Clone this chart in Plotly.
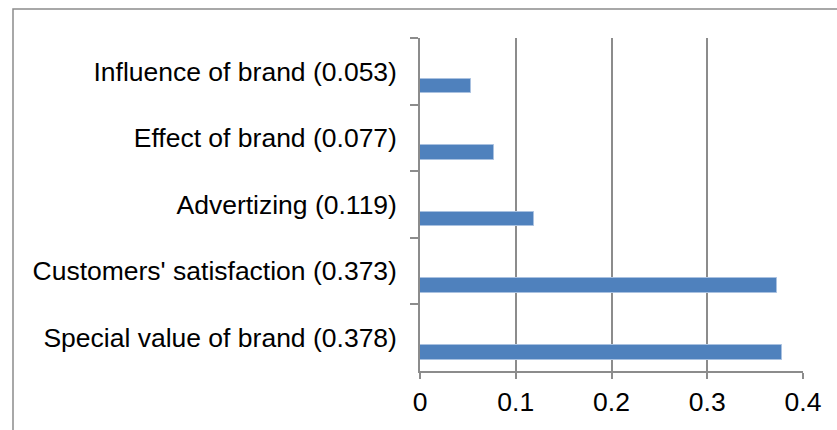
import plotly.graph_objects as go

categories = [
    "Influence of brand (0.053)",
    "Effect of brand (0.077)",
    "Advertizing (0.119)",
    "Customers' satisfaction (0.373)",
    "Special value of brand (0.378)",
]
values = [0.053, 0.077, 0.119, 0.373, 0.378]
x_ticks = [0, 0.1, 0.2, 0.3, 0.4]
x_tick_labels = ["0", "0.1", "0.2", "0.3", "0.4"]

W, H = 837, 430
L, R, T, B = 420, 34, 38, 59
pw, ph = W - L - R, H - T - B

fig = go.Figure(
    go.Bar(
        x=values,
        y=categories,
        orientation="h",
        offset=0.11,
        width=0.22,
        marker=dict(color="#4F81BD", line=dict(color="#A9C1E0", width=1)),
        hoverinfo="x+y",
    )
)

grey = "#8C8C8C"
font = dict(family="Liberation Sans, Arial, sans-serif", size=26.5, color="#000000")

fig.update_layout(
    width=W,
    height=H,
    margin=dict(l=L, r=R, t=T, b=B, autoexpand=False),
    paper_bgcolor="white",
    plot_bgcolor="white",
    showlegend=False,
    font=font,
    bargap=0,
    xaxis=dict(
        range=[0, 0.4],
        tickvals=x_ticks,
        ticktext=x_tick_labels,
        showgrid=True,
        gridcolor=grey,
        gridwidth=1.5,
        zeroline=False,
        showline=True,
        linecolor=grey,
        linewidth=1.5,
        ticks="outside",
        ticklen=6,
        tickwidth=1.5,
        tickcolor=grey,
        tickfont=font,
        fixedrange=True,
    ),
    yaxis=dict(
        type="category",
        categoryorder="array",
        categoryarray=categories,
        range=[4.5, -0.5],
        showgrid=False,
        zeroline=False,
        showline=True,
        linecolor=grey,
        linewidth=1.5,
        ticks="outside",
        tickson="boundaries",
        ticklen=8,
        tickwidth=1.5,
        tickcolor=grey,
        tickfont=font,
        ticklabelstandoff=16,
        fixedrange=True,
    ),
)

# outer chart-area frame (left and top visible, rest cropped)
def px_to_paper_x(px):
    return (px - L) / pw

def px_to_paper_y(py):
    return (H - B - py) / ph

fig.add_shape(
    type="rect",
    xref="paper", yref="paper",
    x0=px_to_paper_x(13), x1=px_to_paper_x(860),
    y0=px_to_paper_y(460), y1=px_to_paper_y(9),
    line=dict(color="#8C8C8C", width=1.5),
    fillcolor="rgba(0,0,0,0)",
    layer="below",
)

fig.write_html(
    "out.html",
    config={"displayModeBar": False},
    post_script="document.body.style.margin='0';document.body.style.overflow='hidden';",
)
